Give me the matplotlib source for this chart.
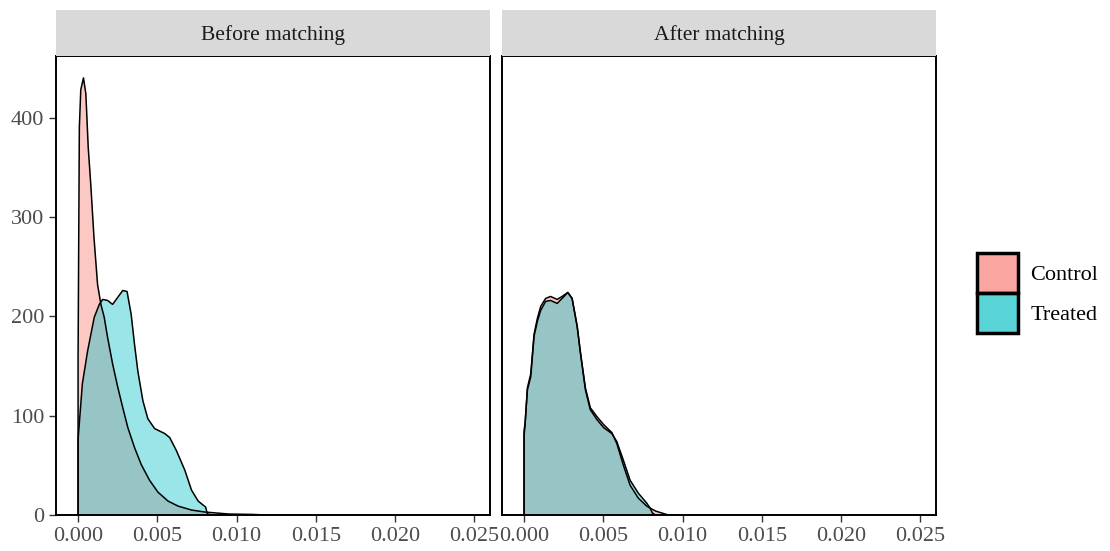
import numpy as np
import matplotlib
matplotlib.use("Agg")
import matplotlib.pyplot as plt
from matplotlib.patches import Patch

plt.rcParams['font.family'] = ['Liberation Serif', 'DejaVu Serif']

# density estimates
ctrl_before_x = [0, 0, 0.00008, 0.00017, 0.00034, 0.00049, 0.00064, 0.0008, 0.001, 0.00123,
                 0.00144, 0.00165, 0.00186, 0.00218, 0.0025, 0.00282, 0.00314, 0.00356,
                 0.00398, 0.00451, 0.00504, 0.00568, 0.00631, 0.00716, 0.00801,
                 0.0095, 0.011, 0.0119]
ctrl_before_y = [0, 160, 390, 428, 440, 424, 370, 333, 280, 232,
                 212, 199, 179, 152, 129, 108, 88, 68,
                 51, 35, 23, 14, 9, 5, 3,
                 1, 0.6, 0]

treat_before_x = [0, 0, 0.00027, 0.0006, 0.00102, 0.00134, 0.00155, 0.00186, 0.00218, 0.0025,
                  0.00282, 0.00309, 0.00335, 0.00356, 0.00377, 0.00409, 0.0044, 0.00483,
                  0.00547, 0.00578, 0.0062, 0.00674, 0.00716, 0.00758, 0.00805, 0.00816, 0.0085]
treat_before_y = [0, 76, 132, 165, 199, 212, 217, 216, 212, 219,
                  226, 225, 202, 172, 145, 115, 97, 87,
                  82, 78, 65, 45, 25, 14, 8, 1, 0]

ctrl_after_x = [0, 0, 0.00006, 0.00021, 0.00042, 0.00063, 0.00084, 0.00105, 0.00136, 0.00167,
                0.00209, 0.0024, 0.00276, 0.00303, 0.00335, 0.00356, 0.00387, 0.00418, 0.0046,
                0.00502, 0.00554, 0.00585, 0.00627, 0.00669, 0.00721, 0.00774, 0.00795, 0.0083,
                0.0087, 0.009, 0.0092]
ctrl_after_y = [0, 80, 90, 128, 142, 182, 198, 210, 218, 220,
                217, 220, 224, 218, 190, 163, 128, 108, 99,
                91, 83, 72, 50, 30, 17, 9, 7, 4,
                2, 0.5, 0]

treat_after_x = [0, 0, 0.00006, 0.00021, 0.00042, 0.00063, 0.00084, 0.00105, 0.00136, 0.00167,
                 0.00209, 0.0024, 0.00276, 0.00303, 0.00335, 0.00356, 0.00387, 0.00418, 0.0046,
                 0.00502, 0.00554, 0.00585, 0.00627, 0.00669, 0.00721, 0.00774, 0.00795, 0.0081,
                 0.0083]
treat_after_y = [0, 85, 92, 126, 139, 180, 195, 206, 215, 216,
                 213, 218, 224, 218, 190, 163, 126, 106, 96,
                 88, 82, 74, 55, 35, 22, 12, 7, 2,
                 0]

panels = ["Before matching", "After matching"]
x_ticks = [0.000, 0.005, 0.010, 0.015, 0.020, 0.025]
y_ticks = [0, 100, 200, 300, 400]
col_ctrl = '#F8766D'
col_treat = '#00BFC4'

fig = plt.figure(figsize=(11.1, 5.51), dpi=100)
lefts = [0.0505, 0.4523]
data = [((ctrl_before_x, ctrl_before_y), (treat_before_x, treat_before_y)),
        ((ctrl_after_x, ctrl_after_y), (treat_after_x, treat_after_y))]

for i, title in enumerate(panels):
    ax = fig.add_axes([lefts[i], 0.0653, 0.391, 0.833])
    for (xs, ys), col in zip(data[i], [col_ctrl, col_treat]):
        ax.fill_between(xs, 0, ys, color=col, alpha=0.4, linewidth=0)
        ax.plot(xs, ys, color='black', lw=1.1)
    ax.set_xlim(-0.00139, 0.026)
    ax.set_ylim(0, 462)
    ax.set_xticks(x_ticks)
    ax.set_xticklabels(['%.3f' % t for t in x_ticks])
    ax.set_yticks(y_ticks)
    if i == 1:
        ax.tick_params(axis='y', left=False, labelleft=False)
    ax.tick_params(colors='#333333', labelcolor='#4D4D4D', labelsize=16, length=5, width=1)
    for s in ax.spines.values():
        s.set_linewidth(1.4)
        s.set_color('black')
    # facet strip
    sax = fig.add_axes([lefts[i], 0.8983, 0.391, 0.0835])
    sax.set_facecolor('#D9D9D9')
    sax.set_xticks([])
    sax.set_yticks([])
    for s in sax.spines.values():
        s.set_visible(False)
    sax.text(0.5, 0.45, title, ha='center', va='center', fontsize=15.5, color='#1A1A1A',
             transform=sax.transAxes)

handles = [Patch(facecolor=(0.973, 0.463, 0.427, 0.65), edgecolor='black', linewidth=2.5),
           Patch(facecolor=(0.0, 0.749, 0.769, 0.65), edgecolor='black', linewidth=2.5)]
fig.legend(handles, ['Control', 'Treated'], loc='center left', bbox_to_anchor=(0.862, 0.468),
           frameon=False, fontsize=16, handlelength=1.85, handleheight=2.4,
           labelspacing=0.0, handletextpad=0.55)

fig.savefig('out.png', dpi=100)
